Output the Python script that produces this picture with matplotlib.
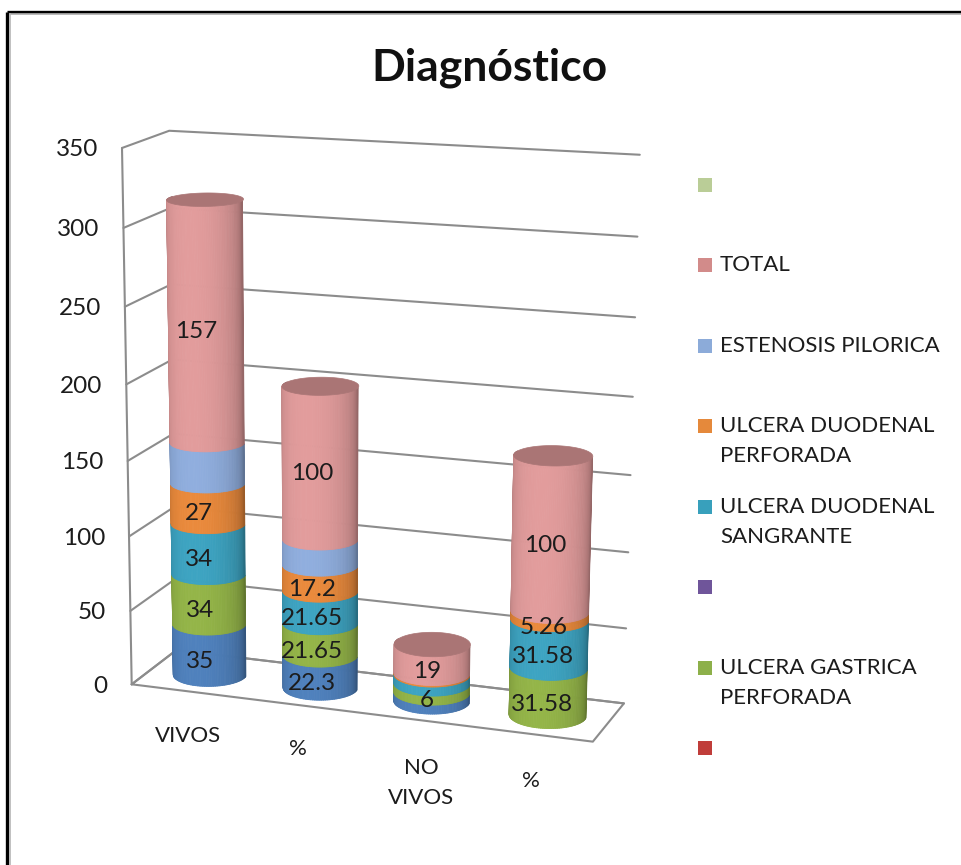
import numpy as np
import matplotlib
matplotlib.use("Agg")
import matplotlib.pyplot as plt
from matplotlib.collections import PolyCollection

categories = ["VIVOS", "%", "NO\nVIVOS", "%"]
y_ticks = [0, 50, 100, 150, 200, 250, 300, 350]

# stacked series, bottom to top
primera = [35, 22.3, 6, 0]
gastrica = [34, 21.65, 6, 31.58]
sangrante = [34, 21.65, 6, 31.58]
perforada = [27, 17.2, 1, 5.26]
estenosis = [27, 17.2, 0, 0]
total = [157, 100, 19, 100]

series = [primera, gastrica, sangrante, perforada, estenosis, total]
series_colors = ["#4f81bd", "#94b548", "#3da4c2", "#ea8a3c", "#90aede", "#e29c9c"]

# which value gets a printed label
labels_on = [
    [True, True, False, False],
    [True, True, True, True],
    [True, True, False, True],
    [True, True, False, True],
    [False, False, False, False],
    [True, True, True, True],
]

legend_names = ["", "TOTAL", "ESTENOSIS PILORICA", "ULCERA DUODENAL\nPERFORADA",
                "ULCERA DUODENAL\nSANGRANTE", "", "ULCERA GASTRICA\nPERFORADA", ""]
legend_colors = ["#bacd97", "#d28b8a", "#8cabd9", "#e5893b", "#38a0bc", "#6f559a", "#8db04a", "#c03d3a"]
legend_y = [185, 265, 346, 426, 507, 587, 668, 748]

# camera calibration: (x, value, depth) -> pixel
cal_3d = [(0, 0, 0), (1, 0, 0), (1, 0, 1), (0, 0, 1), (0, 350, 0), (0, 350, 1), (1, 350, 1),
          (1, 150, 1), (0, 150, 0)]
cal_px = [(135, 683), (592, 744), (625, 701), (173, 652), (119, 148), (172, 131), (640, 155),
          (630, 475), (128, 460)]


def fit_camera(pts, px):
    rows = []
    for (x, v, z), (u, w) in zip(pts, px):
        h = v / 350
        rows.append([x, h, z, 1, 0, 0, 0, 0, -u * x, -u * h, -u * z, -u])
        rows.append([0, 0, 0, 0, x, h, z, 1, -w * x, -w * h, -w * z, -w])
    _, _, vt = np.linalg.svd(np.array(rows, dtype=float))
    return vt[-1].reshape(3, 4)


P = fit_camera(cal_3d, cal_px)


def project(x, v, z):
    x, v, z = np.broadcast_arrays(np.asarray(x, float), np.asarray(v, float), np.asarray(z, float))
    pts = np.stack([x, v / 350, z, np.ones_like(x)], axis=-1) @ P.T
    return pts[..., 0] / pts[..., 2], pts[..., 1] / pts[..., 2]


def shade(color, f):
    rgb = np.array(matplotlib.colors.to_rgb(color)) * f
    return tuple(np.clip(rgb, 0, 1))


col_x = [0.130, 0.380, 0.625, 0.873]
col_z = 0.49
rx, rz = 0.078, 0.33
label_dx = [5, 5, 7, 5]


def draw_segment(ax, xc, v0, v1, color, cap=False):
    t = np.linspace(np.pi - 0.15, 2 * np.pi + 0.15, 71)
    xs = xc + rx * np.cos(t)
    zs = col_z + rz * np.sin(t)
    ub, wb = project(xs, v0, zs)
    ut, wt = project(xs, v1, zs)
    polys, cols, depth = [], [], []
    for k in range(len(t) - 1):
        polys.append([(ub[k], wb[k]), (ub[k + 1], wb[k + 1]), (ut[k + 1], wt[k + 1]), (ut[k], wt[k])])
        d = max(-np.sin((t[k] + t[k + 1]) / 2), 0)
        cols.append(shade(color, 0.66 + 0.34 * d ** 0.6))
        depth.append(np.sin((t[k] + t[k + 1]) / 2))
    order = np.argsort(depth)[::-1]
    polys = [polys[i] for i in order]
    cols = [cols[i] for i in order]
    ax.add_collection(PolyCollection(polys, facecolors=cols, edgecolors=cols, linewidths=0.6, zorder=3))
    if cap:
        a = np.linspace(0, 2 * np.pi, 90)
        uc, wc = project(xc + rx * np.cos(a), v1, col_z + rz * np.sin(a))
        ax.fill(uc, wc, color=shade(color, 0.75), lw=0.5, zorder=3)


fig = plt.figure(figsize=(9.62, 8.65), dpi=100)
ax = fig.add_axes([0, 0, 1, 1])
ax.set_xlim(0, 962)
ax.set_ylim(865, 0)
ax.axis("off")
plt.rcParams["font.family"] = ["Lato", "DejaVu Sans"]

# frame round the chart
ax.plot([7.5, 7.5], [865, 11.5], color="black", lw=2.4, solid_capstyle="butt")
ax.plot([7.5, 962], [11.5, 11.5], color="black", lw=2.4, solid_capstyle="butt")
ax.plot([10, 10], [865, 14], color="#b5b5b5", lw=1.2)
ax.plot([10, 962], [14, 14], color="#b5b5b5", lw=1.2)

ax.text(489, 68, "Diagnóstico", fontsize=32, fontweight="bold", ha="center", va="center", color="#111111")

grid = dict(color="#8c8c8c", lw=1.5, zorder=1, solid_capstyle="round")
for v in y_ticks:
    u, w = project([0, 0, 1], v, [0, 1, 1])
    ax.plot(u, w, **grid)
    lx, ly = project(0, v, 0)
    ax.text(lx - 24, ly + 2, str(v), fontsize=17.5, ha="right", va="center", color="#1c1c1c")
u, w = project([0, 0], [0, 350], [0, 0])
ax.plot(u, w, **grid)
u, w = project([0, 1, 1, 0, 0], 0, [0, 0, 1, 1, 0])
ax.plot(u, w, **grid)

for i in range(len(categories)):
    base = 0
    last = max(j for j, s in enumerate(series) if s[i] > 0)
    for j, s in enumerate(series):
        if s[i] <= 0:
            continue
        draw_segment(ax, col_x[i], base, base + s[i], series_colors[j], cap=(j == last))
        if labels_on[j][i]:
            lu, lw_ = project(col_x[i], base + s[i] / 2, col_z - rz)
            ax.text(lu + label_dx[i], lw_ + 1, f"{s[i]:g}", fontsize=17.5, ha="center", va="center",
                    color="#1c1c1c", zorder=5)
        base += s[i]

cat_pos = [(188, 736), (298, 749), (421, 783), (531, 781)]
for name, (cx, cy) in zip(categories, cat_pos):
    ax.text(cx, cy, name, fontsize=16, ha="center", va="center", color="#1c1c1c", linespacing=1.6)

for name, col, ly in zip(legend_names, legend_colors, legend_y):
    ax.fill([698, 712, 712, 698], [ly - 7, ly - 7, ly + 7, ly + 7], color=col, lw=0)
    if name:
        ax.text(720, ly - 10, name, fontsize=16, ha="left", va="top", color="#1c1c1c", linespacing=1.6)

fig.savefig("out.png", dpi=100)
